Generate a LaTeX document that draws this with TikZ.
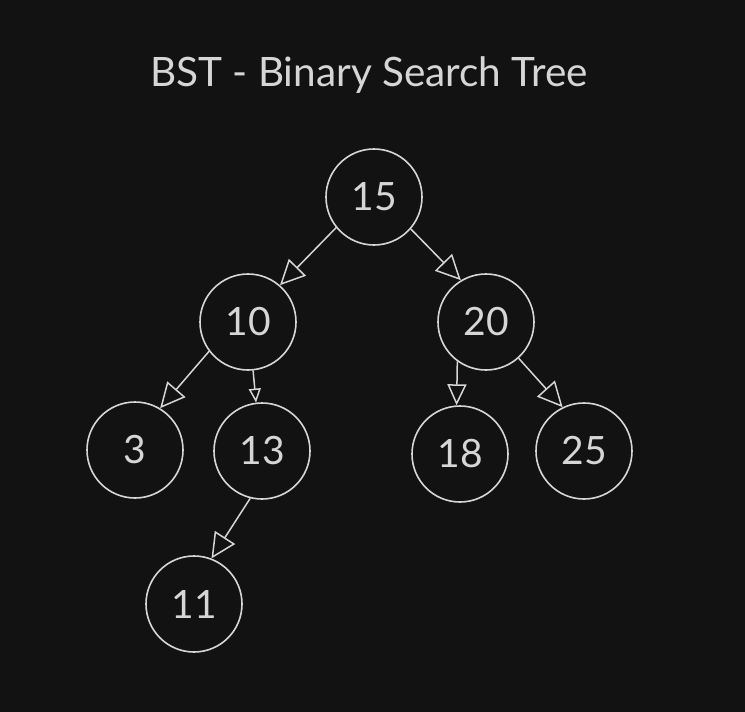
\documentclass[tikz,border=0pt]{standalone}
\usepackage{fontspec}
\setmainfont{Lato}
\usetikzlibrary{arrows.meta}
\definecolor{bgdark}{RGB}{18,18,18}
\definecolor{inkgray}{RGB}{214,214,214}
\begin{document}
\begin{tikzpicture}[x=1pt,y=1pt,yscale=-1,xscale=1,
    bstnode/.style={draw=inkgray,line width=1.6pt,circle,minimum size=96pt,inner sep=0pt,text=inkgray,font=\fontsize{39}{46}\selectfont},
    bstedge/.style={draw=inkgray,line width=1.5pt,-{Triangle[open,length=25pt,width=24pt]}},
    midedge/.style={draw=inkgray,line width=1.5pt,-{Triangle[open,length=21pt,width=19pt]}},
    smalledge/.style={draw=inkgray,line width=1.5pt,-{Triangle[open,length=14pt,width=12pt]}}]
    %Background
    \fill [bgdark] (0,0) rectangle (745,712);
    \useasboundingbox (0,0) rectangle (745,712);
    % Title
    \node (title) at (369,75) [text=inkgray,font=\fontsize{40.5}{48}\selectfont] {BST - Binary Search Tree};
    % Nodes
    \node (n15) at (374,197) [bstnode] {15};
    \node (n10) at (248,322) [bstnode] {10};
    \node (n20) at (486,322) [bstnode] {20};
    \node (n3) at (135,450) [bstnode] {3};
    \node (n13) at (262,451) [bstnode] {13};
    \node (n18) at (460,454) [bstnode] {18};
    \node (n25) at (584,451) [bstnode] {25};
    \node (n11) at (194,604) [bstnode] {11};
    % Edges
    \draw [bstedge] (n15.219) -- (n10.49);
    \draw [bstedge] (n15.319) -- (n20.121);
    \draw [bstedge] (n10.217) -- (n3.59);
    \draw [smalledge] (n10.276) -- (n13.97);
    \draw [midedge] (n20.234) -- (n18.94);
    \draw [bstedge] (n20.312) -- (n25.116);
    \draw [bstedge] (n13.256) -- (n11.69);
\end{tikzpicture}
\end{document}
